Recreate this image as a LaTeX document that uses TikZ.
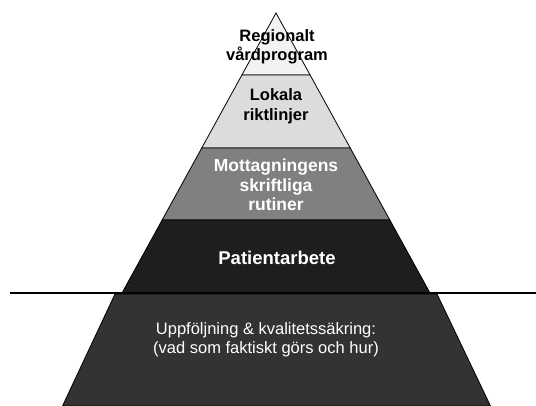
\documentclass[tikz,border=0pt]{standalone}
\usepackage{fontspec}
\setmainfont{Liberation Sans}
\definecolor{topgray}{HTML}{F2F2F2}
\definecolor{lightgray}{HTML}{DCDCDC}
\definecolor{midgray}{HTML}{808080}
\definecolor{darkband}{HTML}{1E1E1E}
\definecolor{basegray}{HTML}{333333}
\begin{document}
\begin{tikzpicture}[x=1pt,y=-1pt]
\tikzstyle{every node}=[align=center,font=\fontsize{16.5}{19.5}\selectfont\bfseries]
\tikzstyle{band}=[draw=black,line width=0.8pt]
\useasboundingbox (0,0) rectangle (536,406);
% pyramid
\draw [band,fill=topgray] (276,13) -- (310.1,75) -- (241.9,75) -- cycle;
\draw [band,fill=lightgray] (241.9,75) -- (310.1,75) -- (350.25,148) -- (201.75,148) -- cycle;
\draw [band,fill=midgray] (201.75,148) -- (350.25,148) -- (389.85,220) -- (162.15,220) -- cycle;
\draw [band,fill=darkband] (162.15,220) -- (389.85,220) -- (430.55,294) -- (121.45,294) -- cycle;
\draw [band,fill=basegray] (115,294) -- (437,294) -- (490.5,406) -- (62.5,406) -- cycle;
\draw [line width=2pt] (10,293.5) -- (536,293.5);
\node (reg) at (277,47) {Regionalt\\vårdprogram};
\node (lok) at (276,106) {Lokala\\riktlinjer};
\node [text=white,font=\fontsize{17.5}{19.7}\selectfont\bfseries] (mot) at (276,185) {Mottagningens\\skriftliga\\rutiner};
\node [text=white,font=\fontsize{18.5}{20}\selectfont\bfseries] (pat) at (277,257.5) {Patientarbete};
\node [text=white,font=\fontsize{16.5}{19}\selectfont] (upp) at (266,340) {Uppföljning \& kvalitetssäkring:\\(vad som faktiskt görs och hur)};
\end{tikzpicture}
\end{document}
